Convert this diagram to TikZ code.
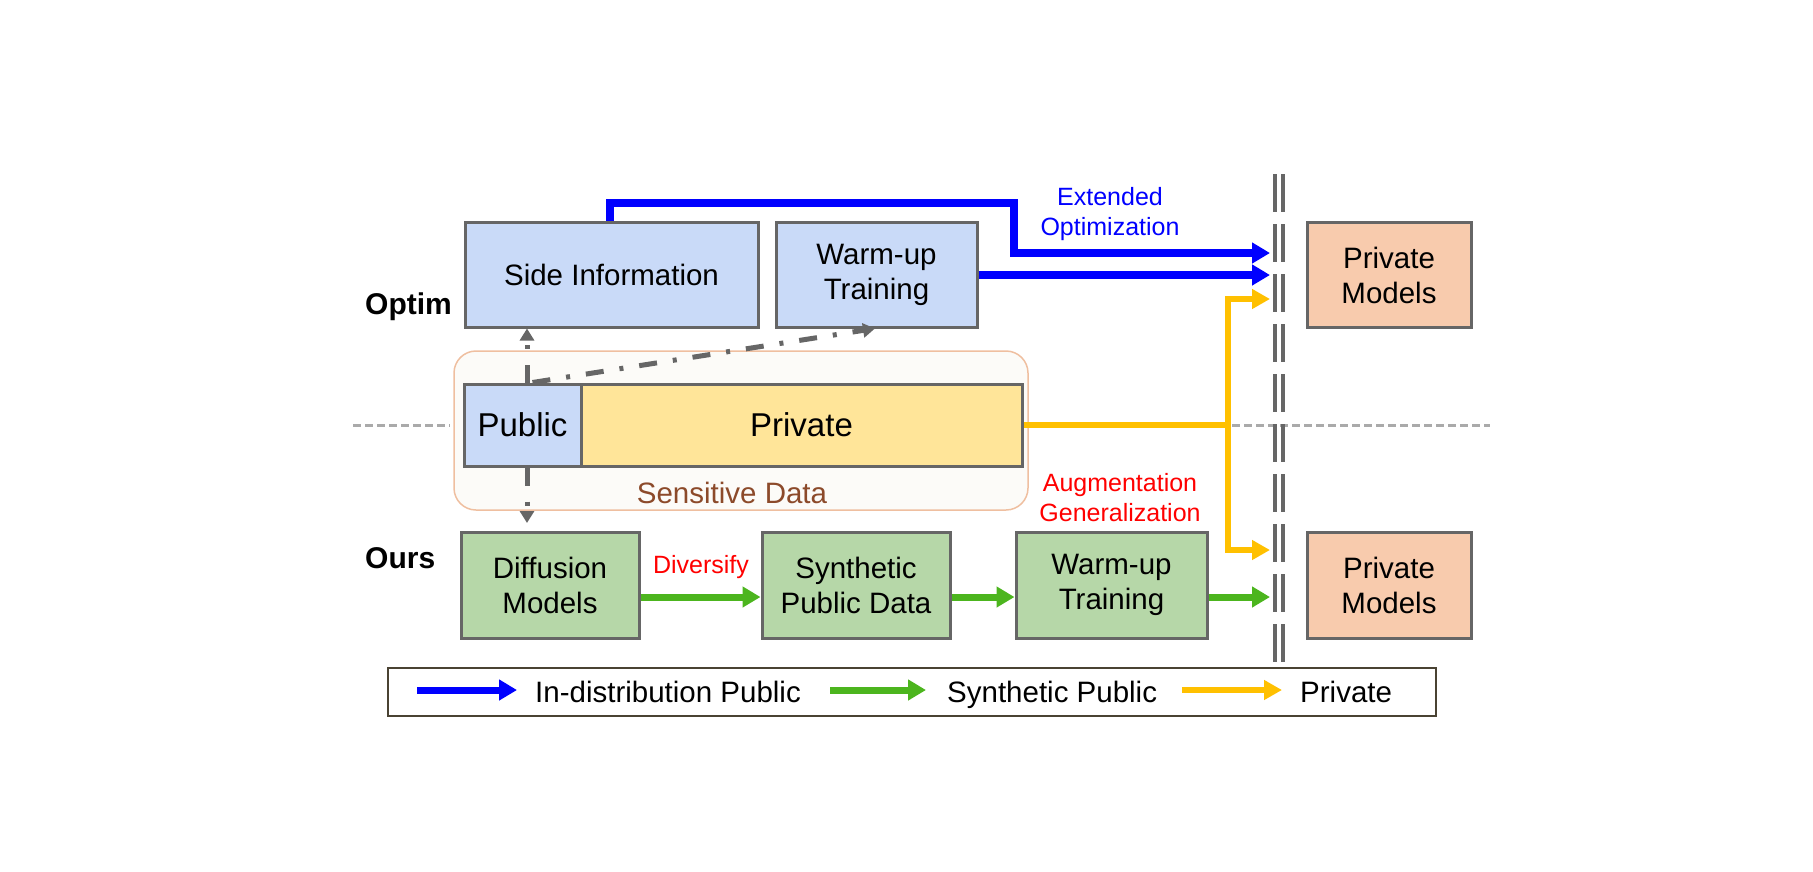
\documentclass[tikz,border=0pt]{standalone}
\usepackage{fontspec}
\setmainfont{Liberation Sans}
\usetikzlibrary{arrows.meta}
\definecolor{boxblue}{HTML}{C9DAF8}
\definecolor{boxgreen}{HTML}{B6D7A8}
\definecolor{boxorange}{HTML}{F8CBAD}
\definecolor{boxyellow}{HTML}{FFE599}
\definecolor{edgegray}{HTML}{666666}
\definecolor{lblue}{HTML}{0000FF}
\definecolor{lgreen}{HTML}{4CB51E}
\definecolor{lyellow}{HTML}{FFC000}
\definecolor{sensfill}{HTML}{FCFBF8}
\definecolor{sensedge}{HTML}{EFBFA0}
\definecolor{sensbrown}{HTML}{8C4A2A}
\definecolor{legedge}{HTML}{4A4333}
\definecolor{sepgray}{HTML}{AAAAAA}
\tikzset{
  box/.style={draw=edgegray, line width=3pt, inner sep=0pt, align=center,
    font=\fontsize{29.5}{35}\selectfont, minimum height=105pt},
  bluebox/.style={box, fill=boxblue},
  greenbox/.style={box, fill=boxgreen, minimum height=106pt},
  orangebox/.style={box, fill=boxorange},
  databox/.style={box, font=\fontsize{33}{38}\selectfont, minimum height=82pt},
  bluearr/.style={draw=lblue, line width=8pt, -{Triangle[length=18pt,width=20pt]}},
  greenarr/.style={draw=lgreen, line width=7pt, -{Triangle[length=18pt,width=20pt]}},
  yelline/.style={draw=lyellow, line width=6pt},
  yelarr/.style={yelline, -{Triangle[length=18pt,width=19pt]}},
  ddarr/.style={draw=edgegray, line width=5pt, dash pattern=on 18pt off 16pt on 4pt off 16pt,
    -{Triangle[length=12pt,width=14pt]}},
  sepline/.style={draw=sepgray, line width=3pt, dash pattern=on 8pt off 4pt},
  dblline/.style={draw=edgegray, line width=3.5pt, dash pattern=on 38pt off 12pt},
  rowlabel/.style={font=\fontsize{30}{36}\selectfont\bfseries, anchor=west, inner sep=0pt},
  note/.style={font=\fontsize{25}{30}\selectfont, align=center, inner sep=0pt},
  legtext/.style={font=\fontsize{29.5}{35}\selectfont, anchor=base west, inner sep=0pt},
}
\begin{document}
\begin{tikzpicture}[x=1pt,y=-1pt]
\useasboundingbox (0,0) rectangle (1813,871);

% separator lines
\draw[sepline] (353,425) -- (450,425);
\draw[sepline] (1232,425) -- (1490,425);

% sensitive data container
\node[draw=sensedge, fill=sensfill, line width=1.5pt, rounded corners=22pt,
  minimum width=574pt, minimum height=159pt, inner sep=0pt] (sens) at (741,430.5) {};
\node[note, font=\fontsize{29.5}{35}\selectfont, text=sensbrown] (senslabel) at (732,493) {Sensitive Data};

% top row
\node[bluebox, minimum width=293pt] (side) at (611.5,274.5) {Side Information};
\node[bluebox, minimum width=201pt] (warmA) at (876.5,274.5) {Warm-up\\Training};
\node[orangebox, minimum width=164pt] (privA) at (1389,275) {Private\\Models};

% data row
\node[databox, fill=boxblue, minimum width=117pt] (pub) at (522.5,425) {Public};
\node[databox, fill=boxyellow, minimum width=441pt] (priv) at (801.5,425) {Private};

% bottom row
\node[greenbox, minimum width=178pt] (diff) at (550,585) {Diffusion\\Models};
\node[greenbox, minimum width=188pt] (synth) at (856,585) {Synthetic\\Public Data};
\node[greenbox, minimum width=191pt] (warmB) at (1111.5,585) {Warm-up\\Training};
\node[orangebox, minimum width=164pt, minimum height=106pt] (privB) at (1389,585) {Private\\Models};

% row labels
\node[rowlabel] (optim) at (365,307) {Optim};
\node[rowlabel] (ours) at (365,558) {Ours};

% double barrier
\draw[dblline] (1275,174) -- (1275,662);
\draw[dblline] (1283,174) -- (1283,662);

% coordinates of arrow ends at the barrier
\coordinate (bcorner) at (1014,203);
\coordinate (tB1) at (1270,253);
\coordinate (tB2) at (1270,275);
\coordinate (tY1) at (1270,299);
\coordinate (tY2) at (1270,550);
\coordinate (tG) at (1270,597);
\coordinate (yj) at (1228,425);
\coordinate (ddown) at (527,523);

% blue arrows
\draw[bluearr] ([xshift=-1.5pt]side.north) |- (bcorner) |- (tB1);
\draw[bluearr] (warmA.east |- tB2) -- (tB2);

% yellow arrows
\draw[yelline] (priv.east) -- (yj);
\draw[yelarr] (yj) |- (tY1);
\draw[yelarr] (yj) |- (tY2);

% green arrows
\draw[greenarr] ([yshift=-12pt]diff.east) -- ([yshift=-12pt]synth.west);
\draw[greenarr] ([yshift=-12pt]synth.east) -- ([yshift=-12pt]warmB.west);
\draw[greenarr] ([yshift=-12pt]warmB.east) -- (tG);

% gray dash-dot arrows
\draw[ddarr] ([xshift=4.5pt]pub.north) -- ([xshift=4.5pt]pub.north |- side.south);
\draw[ddarr] ([xshift=10pt]pub.north) -- ([xshift=-1.5pt]warmA.south);
\draw[ddarr] ([xshift=4.5pt]pub.south) -- (ddown);

% annotations
\node[note, text=lblue] (extopt) at (1110,214) {Extended\\Optimization};
\node[note, text=red] (auggen) at (1120,498) {Augmentation\\Generalization};
\node[note, text=red] (divers) at (701,567) {Diversify};

% legend
\node[draw=legedge, line width=2.5pt, minimum width=1048pt, minimum height=48pt, inner sep=0pt] (legend) at (912,692) {};
\coordinate (l1a) at (417,690); \coordinate (l1b) at (517,690);
\coordinate (l2a) at (830,690); \coordinate (l2b) at (926,690);
\coordinate (l3a) at (1182,690); \coordinate (l3b) at (1282,690);
\draw[bluearr, line width=7pt] (l1a) -- (l1b);
\draw[greenarr] (l2a) -- (l2b);
\draw[yelarr] (l3a) -- (l3b);
\node[legtext] (lt1) at (535,702) {In-distribution Public};
\node[legtext] (lt2) at (947,702) {Synthetic Public};
\node[legtext] (lt3) at (1300,702) {Private};
\end{tikzpicture}
\end{document}
